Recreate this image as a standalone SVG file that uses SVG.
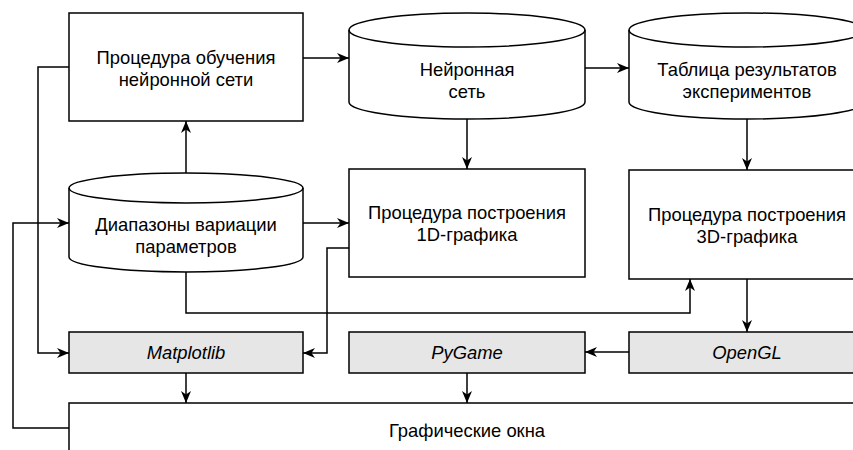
<svg xmlns="http://www.w3.org/2000/svg" width="853" height="450" viewBox="0 0 853 450">
<style>
.s{fill:#fff;stroke:#000;stroke-width:1.5}
.g{fill:#e6e6e6;stroke:#000;stroke-width:1.5}
.t{font-family:"Liberation Sans",Arial,sans-serif;font-size:18.4px;fill:#000;text-anchor:middle}
.i{font-style:italic}
.c{fill:none;stroke:#000;stroke-width:1.5}
</style>
<defs>
<marker id="a" markerUnits="userSpaceOnUse" markerWidth="14" markerHeight="12" refX="12" refY="5" orient="auto">
<path d="M0,0 L12,5 L0,10 L3.5,5 Z" fill="#000"/>
</marker>
</defs>
<g id="train">
<rect class="s" x="69" y="13" width="234" height="108"/>
<text class="t" x="186" y="64">Процедура обучения</text>
<text class="t" x="186" y="86">нейронной сети</text>
</g>
<g id="net">
<path class="s" d="M349,30 A118,17 0 0 1 585,30 L585,102 A118,17 0 0 1 349,102 Z"/>
<path class="c" d="M349,30 A118,17 0 0 0 585,30"/>
<text class="t" x="467" y="76">Нейронная</text>
<text class="t" x="467" y="98">сеть</text>
</g>
<g id="table">
<path class="s" d="M629,30 A118,17 0 0 1 865,30 L865,102 A118,17 0 0 1 629,102 Z"/>
<path class="c" d="M629,30 A118,17 0 0 0 865,30"/>
<text class="t" x="747" y="76">Таблица результатов</text>
<text class="t" x="747" y="98">экспериментов</text>
</g>
<g id="ranges">
<path class="s" d="M69,188 A117,15 0 0 1 303,188 L303,257 A117,15 0 0 1 69,257 Z"/>
<path class="c" d="M69,188 A117,15 0 0 0 303,188"/>
<text class="t" x="186" y="231">Диапазоны вариации</text>
<text class="t" x="186" y="253">параметров</text>
</g>
<g id="plot1d">
<rect class="s" x="349" y="169" width="236" height="108"/>
<text class="t" x="467" y="219">Процедура построения</text>
<text class="t" x="467" y="241">1D-графика</text>
</g>
<g id="plot3d">
<rect class="s" x="629" y="170" width="236" height="109"/>
<text class="t" x="747" y="221">Процедура построения</text>
<text class="t" x="747" y="243">3D-графика</text>
</g>
<g id="matplotlib">
<rect class="g" x="69" y="332" width="234" height="41"/>
<text class="t i" x="186" y="359">Matplotlib</text>
</g>
<g id="pygame">
<rect class="g" x="349" y="332" width="236" height="41"/>
<text class="t i" x="467" y="359">PyGame</text>
</g>
<g id="opengl">
<rect class="g" x="629" y="332" width="236" height="41"/>
<text class="t i" x="747" y="359">OpenGL</text>
</g>
<g id="windows">
<rect class="s" x="69" y="403" width="796" height="60"/>
<text class="t" x="467" y="437">Графические окна</text>
</g>
<g id="connectors" class="c" marker-end="url(#a)">
<path d="M303,58 L349,58"/>
<path d="M585,68 L629,68"/>
<path d="M467,119 L467,169"/>
<path d="M747,119 L747,170"/>
<path d="M186,173 L186,121"/>
<path d="M303,223 L349,223"/>
<path d="M69,67 L38,67 L38,353 L69,353"/>
<path d="M69,428 L13,428 L13,223 L69,223"/>
<path d="M349,248 L327,248 L327,353 L303,353"/>
<path d="M186,272 L186,313 L690,313 L690,279"/>
<path d="M747,279 L747,332"/>
<path d="M629,352 L585,352"/>
<path d="M186,373 L186,403"/>
<path d="M467,373 L467,403"/>
</g>
</svg>
